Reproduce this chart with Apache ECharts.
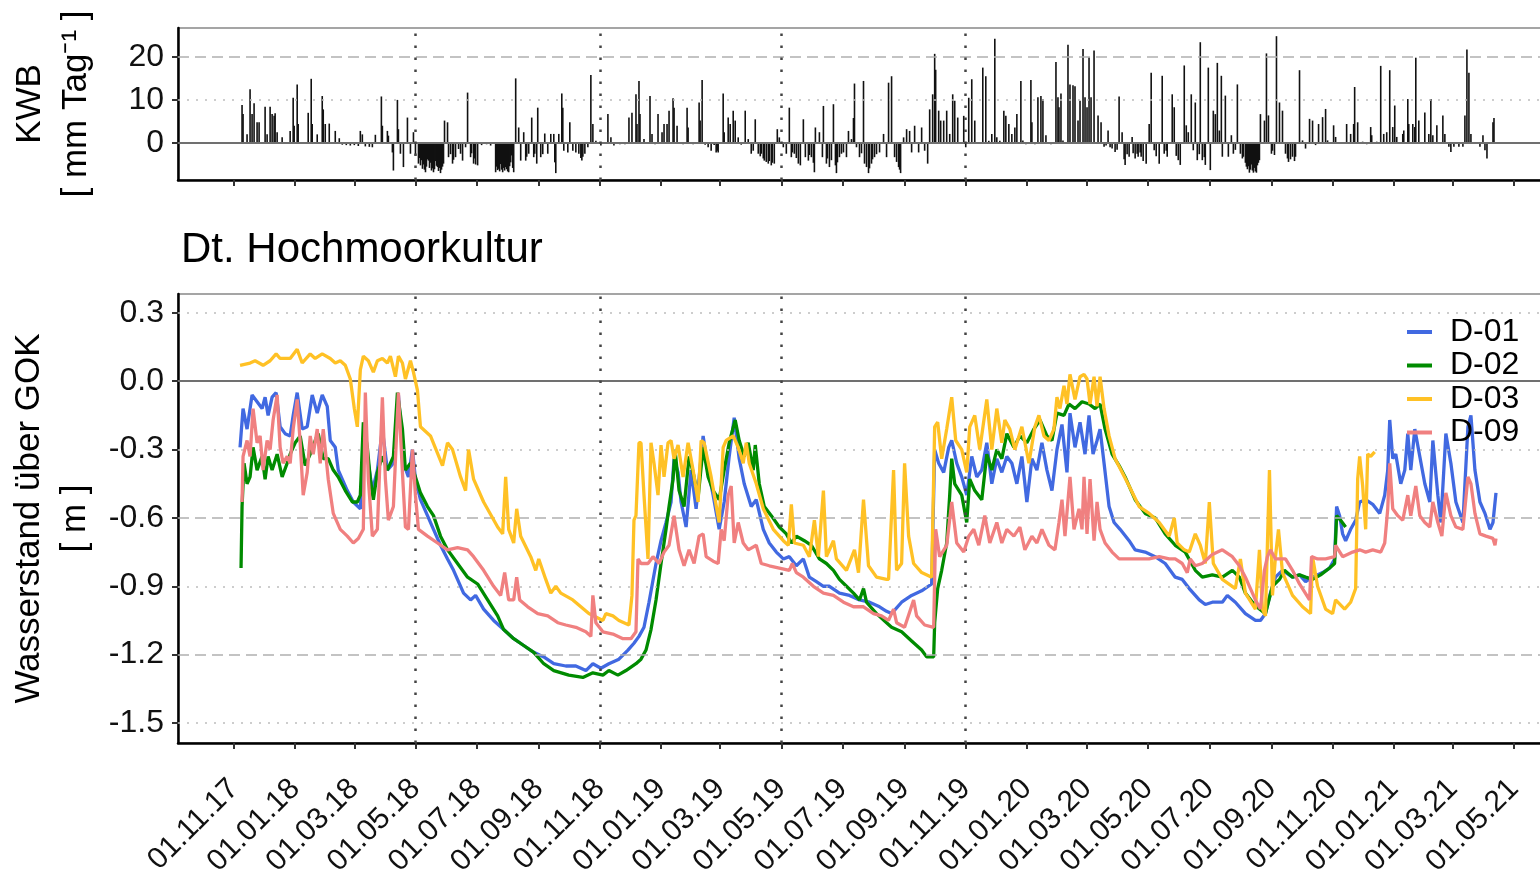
<!DOCTYPE html>
<html>
<head>
<meta charset="utf-8">
<script src="https://cdn.jsdelivr.net/npm/echarts@6/dist/echarts.min.js"></script>
<style>html,body{margin:0;padding:0;background:#fff}#c{width:1540px;height:872px}</style>
</head>
<body>
<div id="c"></div>
<script>
// x positions are days since 01.11.2017
const tickLabels = ["01.11.17","01.01.18","01.03.18","01.05.18","01.07.18","01.09.18","01.11.18","01.01.19","01.03.19","01.05.19","01.07.19","01.09.19","01.11.19","01.01.20","01.03.20","01.05.20","01.07.20","01.09.20","01.11.20","01.01.21","01.03.21","01.05.21"];
const vLineLabels = ["01.05.18","01.11.18","01.05.19","01.11.19"];
const yTicksLevel = [-1.5,-1.2,-0.9,-0.6,-0.3,0,0.3];
const yTicksKWB = [0,10,20];
const seriesNames = ["D-01","D-02","D-03","D-09"];
const seriesColors = ["#4169E1","#008B00","#FFC125","#F08080"];

// KWB [mm/Tag]: [day, value]
const KWB = [[8,8.8],[9,6.7],[13,2],[16,12.5],[18,6.7],[20,9.2],[23,4.8],[25,4.8],[31,8.4],[33,2],[36,8.4],[38,6.7],[40,6.3],[41,6.9],[43,2.5],[48,1.3],[56,2.8],[59,10.5],[60,4],[63,13.6],[64,4.4],[74,7],[77,14.9],[78,4.4],[83,2],[88,10.9],[89,7.8],[91,4.4],[95,4.5],[101,2.8],[105,1.1],[108,-0.4],[112,-0.5],[116,-0.6],[120,-0.5],[124,-0.7],[126,2.8],[128,2],[131,-0.8],[135,-0.9],[138,-1],[141,1.9],[147,10.8],[148,4],[153,2.8],[154,1.7],[158,-2.2],[159,-6.4],[163,10],[164,3.2],[166,-2.5],[169,-5.6],[173,5.9],[176,-2.5],[179,2.5],[181,-2.9],[184,-4.8],[185,-3.5],[186,-5.2],[187,-4],[188,-6],[189,-5],[190,-6.2],[191,-6.8],[192,-5.5],[193,-3.8],[194,-4.1],[195,-5.8],[196,-4.6],[197,-6.4],[198,-5.9],[199,-6.8],[200,-6.1],[201,-4.2],[202,-5.3],[203,-5.6],[204,-6.5],[205,-5.8],[206,-7],[207,-6.2],[208,-5.5],[209,-4.8],[210,5.2],[213,4.8],[214,-3.3],[216,-2.6],[218,-4.8],[219,-3.9],[221,-3.3],[224,-1.4],[226,-2.5],[228,-4.1],[231,-1],[233,11.7],[236,-3.3],[237,-2.4],[239,-4.8],[240,-3.6],[241,-5],[243,-5.2],[247,-0.5],[252,-0.3],[256,-0.6],[261,-6.8],[262,-5.5],[263,-6.3],[264,-6],[265,-6.6],[266,-4.9],[267,-6.2],[268,-6.8],[269,-5.8],[270,-6.4],[271,-5.6],[272,-6.1],[273,-6.6],[274,-6.8],[275,-5.4],[276,-4.5],[277,-2.9],[278,-5.8],[279,-6.8],[281,15],[284,3.6],[286,-4.1],[289,2.5],[291,-4.1],[292,-3.2],[294,-2.5],[297,5.9],[299,-3.3],[300,-2.5],[302,-4.8],[303,8.2],[306,-3.3],[308,-2.6],[310,2.2],[313,-2.5],[316,2.1],[319,2.1],[320,-4.5],[321,-7],[324,2.1],[327,11.5],[328,8.2],[329,-1.8],[333,-2.2],[335,4.8],[338,-1.8],[341,-2.2],[344,-2.5],[346,-3.5],[347,-4.1],[348,-3.2],[350,-2.5],[353,-1],[356,15.8],[358,4.4],[361,0.5],[366,-0.6],[373,6.7],[376,1.3],[379,-0.6],[385,-0.3],[390,-0.3],[394,5.9],[397,7],[401,11.3],[402,4.4],[404,14.4],[405,6.7],[409,0.9],[415,10.9],[417,2.1],[420,-0.3],[423,6.7],[427,2.5],[429,4.4],[432,4.4],[434,7.5],[438,10.4],[439,8.2],[442,4],[445,0.2],[448,-0.3],[452,8.2],[453,3.6],[458,-0.3],[464,9.4],[465,5.2],[467,14.6],[470,-0.4],[473,-1],[476,-1.8],[479,-0.5],[481,-2.2],[482,-1.8],[483,-2.2],[488,11.5],[489,2.5],[493,5.9],[495,4.4],[498,7.5],[500,5.2],[503,1.3],[506,-0.4],[510,7.5],[513,0.9],[516,-2.5],[518,-1.8],[520,5.5],[523,-2.5],[525,-3.1],[526,-2.5],[528,-3.6],[529,-4.1],[531,-4.4],[533,-4.8],[534,-4.2],[536,-5.2],[537,-4.6],[539,-4.8],[542,3.2],[544,1.3],[548,-1],[551,-2.5],[554,8.2],[556,-3.3],[557,-2.2],[559,-2.5],[561,-3.5],[563,-4.8],[565,-5.2],[568,5.5],[570,-3.3],[573,-4.1],[574,-2.8],[576,-3.3],[578,-4.6],[579,-6.8],[580,3.6],[584,2.5],[587,-3.3],[588,8.6],[591,-4.8],[592,-3.6],[594,-5.6],[596,-4],[598,9],[600,-5.2],[601,-7],[602,-4.5],[604,-3.3],[606,-2.5],[608,-2.2],[611,-3.3],[613,2.8],[616,0.9],[618,5.8],[619,13.8],[621,-1],[624,-3.3],[626,-2.4],[628,14.4],[629,-4.8],[631,-5.6],[633,-7],[634,-5.9],[636,-4.8],[637,-3.8],[639,-3.3],[641,-2.6],[644,-2.2],[648,2.1],[651,-3.3],[653,14],[656,15.5],[659,-3.3],[661,-4.4],[663,-5.6],[664,-6.2],[665,-7],[668,1.3],[671,3.2],[674,2.8],[676,-2.2],[679,4],[683,-2.2],[686,3.6],[689,-1.8],[692,-4.8],[694,7.8],[697,11.3],[699,20.7],[700,17],[703,7.5],[705,5.2],[708,5.2],[711,7.5],[714,2.1],[717,11.3],[719,9.8],[722,5.9],[724,-0.2],[728,6.3],[730,-1],[733,10.5],[736,14.8],[739,5.2],[743,-0.2],[747,17.5],[750,15.5],[753,0.5],[756,2.1],[759,24.2],[761,1.3],[764,0.5],[768,7.5],[770,6.3],[773,4.4],[776,2.1],[779,3.6],[781,6.7],[785,14.4],[787,0.6],[790,-0.3],[795,14.6],[796,4.8],[799,-0.3],[802,10.6],[805,10.9],[807,10.2],[810,1.8],[815,-0.3],[820,18.8],[822,10.6],[823,8.3],[825,11.5],[827,0.6],[832,22.8],[834,13.6],[837,13.4],[839,13.2],[842,5.2],[844,9.8],[847,21.8],[849,10.6],[851,8.3],[853,19.9],[855,10.6],[856,-0.2],[858,21.5],[862,6.4],[865,4.8],[868,-0.9],[870,-0.6],[872,2.9],[874,-1],[876,-1.3],[879,-2.1],[881,-1.6],[883,10.8],[886,2.5],[888,-3.8],[889,-5.1],[891,-2.6],[893,-3.2],[896,1.4],[897,-2.4],[899,-3.6],[901,-2.5],[902,-3.2],[904,-2.2],[905,-3.2],[907,-4.2],[910,-4.8],[913,4.4],[915,16.3],[918,-1.7],[920,-3.1],[923,-4.8],[926,15.6],[928,-2.5],[930,-1.8],[931,-3.2],[936,11.3],[938,8.3],[940,-3],[942,-4],[944,-5.1],[948,18],[950,4.1],[952,2.5],[955,11.3],[957,-1.7],[959,9.4],[961,-4],[963,-2.6],[964,23.4],[966,-4],[968,-3.3],[969,-5.1],[972,17.5],[974,-6.3],[977,7.5],[979,6.7],[981,18.6],[983,2.9],[985,15.6],[986,-3.2],[989,11],[992,-3.2],[995,1.8],[997,-2.5],[999,-1.6],[1001,13.6],[1004,-2.5],[1006,-3.6],[1007,-3.2],[1009,-4.6],[1010,-5.5],[1011,-6.1],[1012,-5.4],[1013,-6.9],[1014,-6.2],[1015,-5],[1016,-6.4],[1017,-6.9],[1018,-5.8],[1019,-6.6],[1020,-6.9],[1021,-5.2],[1022,-4.6],[1023,-4],[1024,6.7],[1028,5.2],[1030,20.8],[1032,6.4],[1035,-2.5],[1036,-1.8],[1038,-2.8],[1040,24.8],[1043,9.4],[1046,7.5],[1049,-2.5],[1051,-3.6],[1052,-4.4],[1054,-3.8],[1056,-3.2],[1058,-4.2],[1059,-3.2],[1061,-0.2],[1063,16.9],[1066,0.6],[1069,-1.3],[1073,5.6],[1076,5.2],[1079,-0.5],[1082,4.4],[1086,6],[1089,7.9],[1091,0.6],[1097,4.1],[1099,1.4],[1105,-0.2],[1110,4.4],[1114,2.1],[1117,4.4],[1118,13],[1121,4.8],[1126,0.3],[1130,-0.3],[1134,3.7],[1135,1.8],[1140,0.3],[1144,17.9],[1147,2.1],[1150,2.5],[1153,16.9],[1156,3.7],[1158,8.7],[1160,1.4],[1166,2.1],[1167,2.9],[1171,10.2],[1172,4.4],[1176,4.4],[1178,3.7],[1179,19.8],[1182,5.2],[1188,7.1],[1192,2.1],[1194,10.2],[1196,1.8],[1200,4.1],[1206,6.4],[1208,2.1],[1212,-0.9],[1214,-2.1],[1217,-0.9],[1222,-0.9],[1226,-0.9],[1228,6.4],[1230,21.7],[1232,16.3],[1234,2.1],[1237,0.2],[1243,-0.9],[1246,1.8],[1248,-1.7],[1250,-3.6],[1253,-0.2],[1256,4.8],[1257,5.8],[1258,0.2]];

// Wasserstand [m]: [day, value]
const D01 = [[6,-0.29],[9,-0.12],[13,-0.21],[18,-0.06],[23,-0.09],[28,-0.12],[31,-0.07],[34,-0.15],[38,-0.07],[42,-0.05],[46,-0.2],[51,-0.23],[56,-0.24],[59,-0.15],[63,-0.05],[68,-0.21],[73,-0.2],[78,-0.06],[83,-0.14],[88,-0.06],[93,-0.11],[96,-0.26],[101,-0.29],[104,-0.39],[113,-0.48],[119,-0.53],[126,-0.56],[129,-0.29],[133,-0.33],[138,-0.48],[143,-0.39],[148,-0.21],[153,-0.39],[159,-0.36],[164,-0.06],[169,-0.36],[174,-0.42],[178,-0.3],[181,-0.43],[186,-0.52],[193,-0.59],[199,-0.65],[206,-0.72],[213,-0.78],[219,-0.83],[229,-0.93],[236,-0.96],[241,-0.94],[249,-1.0],[259,-1.05],[269,-1.09],[279,-1.13],[289,-1.16],[299,-1.19],[309,-1.21],[319,-1.24],[331,-1.25],[341,-1.25],[351,-1.27],[358,-1.24],[366,-1.26],[374,-1.24],[384,-1.22],[393,-1.18],[399,-1.15],[404,-1.12],[409,-1.08],[414,-0.97],[421,-0.8],[426,-0.7],[431,-0.62],[436,-0.53],[439,-0.34],[443,-0.4],[446,-0.53],[451,-0.64],[456,-0.39],[461,-0.56],[468,-0.24],[473,-0.39],[478,-0.5],[484,-0.65],[489,-0.53],[494,-0.33],[499,-0.16],[504,-0.34],[509,-0.45],[516,-0.55],[521,-0.52],[528,-0.65],[534,-0.71],[541,-0.75],[548,-0.78],[554,-0.77],[561,-0.81],[568,-0.78],[574,-0.86],[581,-0.88],[588,-0.9],[594,-0.9],[604,-0.93],[614,-0.94],[624,-0.96],[634,-0.97],[644,-0.99],[651,-1.01],[656,-1.02],[666,-0.97],[676,-0.94],[686,-0.92],[696,-0.89],[699,-0.3],[703,-0.36],[708,-0.4],[713,-0.29],[716,-0.26],[721,-0.36],[726,-0.42],[731,-0.5],[736,-0.33],[741,-0.42],[746,-0.39],[751,-0.27],[756,-0.45],[761,-0.34],[766,-0.4],[771,-0.33],[776,-0.36],[781,-0.45],[786,-0.33],[791,-0.53],[796,-0.34],[801,-0.39],[806,-0.27],[811,-0.39],[816,-0.48],[821,-0.3],[826,-0.19],[831,-0.4],[834,-0.14],[839,-0.29],[844,-0.18],[849,-0.32],[853,-0.15],[857,-0.32],[861,-0.26],[864,-0.21],[868,-0.36],[873,-0.55],[878,-0.62],[884,-0.65],[893,-0.7],[899,-0.74],[909,-0.75],[919,-0.77],[929,-0.8],[939,-0.86],[946,-0.87],[953,-0.91],[963,-0.96],[969,-0.98],[976,-0.97],[986,-0.97],[991,-0.94],[999,-0.97],[1009,-1.02],[1019,-1.05],[1024,-1.05],[1029,-1.02],[1034,-0.93],[1039,-0.86],[1046,-0.83],[1056,-0.86],[1063,-0.85],[1069,-0.88],[1076,-0.86],[1086,-0.84],[1093,-0.82],[1098,-0.78],[1100,-0.55],[1103,-0.59],[1106,-0.67],[1109,-0.7],[1114,-0.65],[1119,-0.61],[1123,-0.53],[1129,-0.52],[1136,-0.54],[1143,-0.58],[1148,-0.5],[1151,-0.39],[1153,-0.17],[1156,-0.34],[1159,-0.32],[1164,-0.45],[1168,-0.39],[1171,-0.23],[1174,-0.39],[1178,-0.21],[1183,-0.33],[1188,-0.45],[1193,-0.53],[1196,-0.26],[1201,-0.5],[1204,-0.62],[1209,-0.23],[1214,-0.36],[1219,-0.53],[1226,-0.62],[1231,-0.2],[1234,-0.15],[1238,-0.39],[1243,-0.53],[1248,-0.58],[1253,-0.65],[1256,-0.62],[1259,-0.49]];
const D02 = [[7,-0.82],[8,-0.55],[10,-0.36],[13,-0.45],[16,-0.42],[19,-0.29],[23,-0.39],[28,-0.33],[31,-0.43],[34,-0.33],[38,-0.39],[43,-0.32],[48,-0.42],[53,-0.36],[56,-0.32],[61,-0.27],[66,-0.24],[71,-0.37],[76,-0.32],[81,-0.26],[84,-0.23],[89,-0.34],[94,-0.34],[99,-0.39],[104,-0.42],[111,-0.48],[118,-0.53],[123,-0.53],[126,-0.5],[129,-0.18],[133,-0.29],[136,-0.43],[139,-0.52],[143,-0.4],[148,-0.33],[153,-0.39],[159,-0.33],[163,-0.05],[168,-0.21],[171,-0.39],[176,-0.36],[181,-0.42],[186,-0.49],[193,-0.55],[199,-0.59],[206,-0.68],[213,-0.74],[223,-0.8],[233,-0.86],[243,-0.89],[253,-0.96],[263,-1.03],[269,-1.09],[279,-1.13],[289,-1.16],[299,-1.19],[309,-1.24],[319,-1.27],[334,-1.29],[348,-1.3],[358,-1.28],[368,-1.29],[374,-1.27],[383,-1.29],[391,-1.27],[401,-1.24],[406,-1.22],[411,-1.18],[416,-1.09],[421,-0.96],[426,-0.8],[431,-0.65],[434,-0.55],[438,-0.43],[440,-0.3],[444,-0.48],[449,-0.55],[454,-0.33],[458,-0.4],[463,-0.51],[468,-0.29],[473,-0.42],[478,-0.48],[484,-0.52],[489,-0.39],[494,-0.27],[500,-0.17],[504,-0.26],[509,-0.33],[513,-0.27],[518,-0.39],[520,-0.28],[524,-0.45],[529,-0.55],[536,-0.59],[544,-0.64],[551,-0.67],[556,-0.71],[561,-0.68],[569,-0.7],[576,-0.72],[584,-0.78],[591,-0.8],[598,-0.83],[604,-0.87],[611,-0.9],[618,-0.93],[624,-0.96],[628,-0.91],[631,-0.97],[641,-1.02],[651,-1.06],[656,-1.08],[666,-1.1],[676,-1.14],[686,-1.18],[691,-1.21],[698,-1.21],[699,-1.06],[702,-0.91],[706,-0.83],[711,-0.71],[714,-0.5],[716,-0.34],[719,-0.45],[726,-0.5],[731,-0.62],[734,-0.43],[739,-0.48],[746,-0.52],[751,-0.32],[756,-0.39],[761,-0.3],[766,-0.34],[771,-0.23],[778,-0.29],[784,-0.24],[791,-0.27],[798,-0.21],[804,-0.17],[811,-0.24],[816,-0.26],[821,-0.14],[828,-0.15],[833,-0.1],[839,-0.12],[846,-0.09],[853,-0.1],[859,-0.12],[864,-0.1],[869,-0.21],[876,-0.32],[883,-0.37],[889,-0.42],[899,-0.52],[909,-0.58],[919,-0.6],[929,-0.67],[939,-0.72],[949,-0.75],[959,-0.83],[966,-0.86],[976,-0.85],[986,-0.86],[996,-0.83],[1003,-0.86],[1009,-0.93],[1016,-0.97],[1023,-1.0],[1029,-1.02],[1036,-0.9],[1043,-0.87],[1048,-0.83],[1056,-0.86],[1063,-0.85],[1069,-0.86],[1076,-0.87],[1084,-0.85],[1093,-0.82],[1098,-0.8],[1100,-0.59],[1104,-0.61],[1109,-0.64]];
const D03 = [[6,0.07],[16,0.08],[21,0.09],[29,0.07],[36,0.09],[42,0.12],[46,0.1],[56,0.1],[63,0.14],[68,0.08],[76,0.12],[81,0.1],[88,0.12],[96,0.1],[101,0.08],[106,0.09],[111,0.07],[116,0.01],[120,-0.12],[123,-0.2],[126,0.05],[129,0.11],[134,0.09],[139,0.04],[143,0.09],[148,0.1],[153,0.08],[156,0.11],[161,0.02],[164,0.11],[168,0.08],[171,0.01],[176,0.09],[179,0.04],[183,-0.04],[186,-0.2],[196,-0.24],[208,-0.37],[213,-0.27],[218,-0.3],[226,-0.42],[231,-0.48],[234,-0.3],[239,-0.43],[249,-0.53],[263,-0.64],[268,-0.67],[271,-0.42],[274,-0.65],[279,-0.71],[282,-0.56],[286,-0.68],[296,-0.77],[301,-0.83],[304,-0.78],[311,-0.87],[316,-0.93],[321,-0.9],[326,-0.93],[338,-0.96],[354,-1.02],[368,-1.05],[371,-1.02],[378,-1.03],[384,-1.05],[394,-1.07],[397,-0.94],[399,-0.61],[401,-0.59],[404,-0.27],[406,-0.27],[409,-0.5],[413,-0.78],[416,-0.27],[419,-0.36],[423,-0.5],[426,-0.28],[429,-0.42],[433,-0.27],[436,-0.26],[439,-0.34],[443,-0.28],[448,-0.42],[453,-0.27],[458,-0.39],[463,-0.53],[466,-0.26],[469,-0.27],[476,-0.42],[484,-0.62],[488,-0.29],[491,-0.26],[498,-0.24],[503,-0.29],[508,-0.36],[511,-0.27],[514,-0.36],[521,-0.45],[528,-0.56],[538,-0.65],[548,-0.7],[553,-0.72],[556,-0.54],[559,-0.71],[568,-0.72],[574,-0.77],[579,-0.61],[583,-0.77],[588,-0.48],[591,-0.77],[598,-0.7],[601,-0.78],[611,-0.83],[619,-0.74],[623,-0.84],[628,-0.52],[633,-0.81],[641,-0.86],[651,-0.87],[653,-0.87],[658,-0.39],[661,-0.83],[666,-0.8],[669,-0.36],[673,-0.68],[678,-0.8],[686,-0.84],[696,-0.86],[699,-0.2],[702,-0.18],[706,-0.34],[711,-0.21],[716,-0.07],[720,-0.26],[726,-0.3],[731,-0.4],[734,-0.2],[739,-0.15],[744,-0.3],[751,-0.08],[756,-0.3],[761,-0.12],[766,-0.27],[769,-0.17],[774,-0.21],[779,-0.3],[786,-0.2],[793,-0.36],[799,-0.2],[803,-0.15],[808,-0.24],[813,-0.26],[818,-0.21],[821,-0.07],[824,-0.12],[828,-0.02],[831,-0.1],[834,0.03],[839,-0.08],[844,0.02],[848,0.03],[851,0.01],[854,-0.1],[858,0.02],[861,-0.11],[864,0.02],[868,-0.12],[873,-0.24],[879,-0.34],[886,-0.4],[893,-0.46],[903,-0.55],[913,-0.58],[923,-0.62],[933,-0.68],[938,-0.6],[941,-0.71],[948,-0.74],[953,-0.75],[959,-0.67],[964,-0.72],[969,-0.8],[973,-0.53],[977,-0.8],[986,-0.87],[999,-0.91],[1004,-0.78],[1009,-0.93],[1019,-1.0],[1023,-0.74],[1026,-1.0],[1029,-1.03],[1033,-0.39],[1036,-0.94],[1039,-0.77],[1042,-0.65],[1046,-0.84],[1056,-0.94],[1066,-0.99],[1074,-1.02],[1076,-0.77],[1081,-0.9],[1089,-1.0],[1096,-1.02],[1099,-0.96],[1108,-1.0],[1114,-0.97],[1119,-0.91],[1121,-0.43],[1123,-0.33],[1126,-0.46],[1129,-0.65],[1131,-0.32],[1134,-0.33],[1138,-0.31]];
const D09 = [[8,-0.53],[9,-0.33],[13,-0.26],[16,-0.33],[19,-0.12],[23,-0.27],[26,-0.24],[29,-0.39],[33,-0.26],[36,-0.3],[39,-0.17],[43,-0.06],[46,-0.29],[49,-0.36],[53,-0.33],[56,-0.36],[59,-0.21],[63,-0.08],[66,-0.27],[69,-0.5],[73,-0.4],[76,-0.24],[79,-0.32],[83,-0.21],[86,-0.36],[89,-0.21],[94,-0.43],[99,-0.58],[106,-0.65],[113,-0.68],[119,-0.71],[124,-0.69],[129,-0.65],[131,-0.05],[134,-0.43],[138,-0.68],[143,-0.65],[148,-0.07],[151,-0.43],[154,-0.61],[159,-0.55],[164,-0.05],[168,-0.4],[171,-0.64],[174,-0.65],[178,-0.3],[181,-0.5],[184,-0.65],[193,-0.68],[203,-0.71],[213,-0.74],[223,-0.73],[233,-0.74],[239,-0.77],[249,-0.83],[259,-0.9],[266,-0.94],[270,-0.84],[274,-0.96],[279,-0.96],[282,-0.86],[285,-0.96],[293,-0.99],[303,-1.02],[313,-1.03],[323,-1.06],[331,-1.07],[341,-1.08],[351,-1.1],[356,-1.12],[358,-0.94],[361,-1.06],[368,-1.1],[378,-1.11],[388,-1.13],[396,-1.13],[401,-1.1],[403,-0.78],[406,-0.8],[413,-0.8],[418,-0.77],[424,-0.8],[429,-0.75],[434,-0.72],[439,-0.59],[444,-0.74],[449,-0.81],[454,-0.74],[459,-0.8],[464,-0.68],[468,-0.67],[471,-0.77],[478,-0.79],[483,-0.8],[486,-0.65],[489,-0.7],[493,-0.5],[496,-0.46],[499,-0.71],[503,-0.62],[508,-0.71],[513,-0.74],[521,-0.72],[526,-0.8],[534,-0.81],[544,-0.82],[554,-0.83],[557,-0.8],[561,-0.84],[568,-0.86],[578,-0.9],[588,-0.93],[598,-0.94],[608,-0.97],[618,-0.99],[628,-0.99],[638,-1.02],[646,-1.03],[653,-1.05],[658,-1.0],[661,-1.06],[669,-1.08],[678,-0.96],[681,-1.03],[689,-1.07],[698,-1.08],[700,-0.65],[704,-0.77],[711,-0.72],[716,-0.53],[721,-0.71],[728,-0.75],[733,-0.68],[738,-0.65],[743,-0.72],[749,-0.59],[754,-0.71],[761,-0.62],[766,-0.71],[771,-0.65],[778,-0.68],[784,-0.64],[789,-0.74],[796,-0.68],[801,-0.71],[806,-0.65],[813,-0.72],[819,-0.74],[823,-0.62],[826,-0.52],[829,-0.68],[834,-0.42],[838,-0.65],[843,-0.56],[846,-0.65],[848,-0.42],[851,-0.67],[854,-0.43],[858,-0.7],[861,-0.53],[864,-0.65],[869,-0.71],[876,-0.75],[883,-0.78],[893,-0.78],[903,-0.78],[913,-0.78],[923,-0.77],[933,-0.78],[939,-0.78],[946,-0.8],[951,-0.84],[954,-0.78],[959,-0.81],[966,-0.8],[971,-0.78],[976,-0.76],[986,-0.74],[996,-0.77],[1003,-0.81],[1009,-0.86],[1019,-0.96],[1024,-1.0],[1028,-0.83],[1031,-0.77],[1034,-0.74],[1039,-0.78],[1049,-0.78],[1056,-0.83],[1063,-0.89],[1073,-0.96],[1075,-0.77],[1081,-0.78],[1089,-0.78],[1098,-0.77],[1099,-0.72],[1106,-0.77],[1116,-0.75],[1123,-0.74],[1129,-0.75],[1136,-0.74],[1144,-0.75],[1148,-0.71],[1151,-0.56],[1153,-0.36],[1156,-0.56],[1161,-0.59],[1166,-0.61],[1171,-0.5],[1174,-0.59],[1179,-0.46],[1183,-0.59],[1188,-0.62],[1193,-0.64],[1196,-0.53],[1201,-0.62],[1205,-0.68],[1209,-0.49],[1214,-0.59],[1219,-0.64],[1226,-0.65],[1231,-0.42],[1234,-0.45],[1238,-0.58],[1243,-0.67],[1249,-0.68],[1256,-0.69],[1258,-0.72],[1259,-0.69]];

const START = Date.UTC(2017, 10, 1);
const DAY = 86400000;
const t = d => START + d * DAY;
const parseLbl = s => { const p = s.split('.'); return Date.UTC(2000 + (+p[2]), (+p[1]) - 1, +p[0]); };
const tickTs = tickLabels.map(parseLbl);
const labelOf = {}; tickLabels.forEach((l, i) => labelOf[tickTs[i]] = l);
const vLineTs = vLineLabels.map(parseLbl);
const X_MIN = t(-55.9), X_MAX = t(1307.9);
const FONT = 'Liberation Sans, Arial, sans-serif';
const toXY = arr => arr.map(p => [t(p[0]), p[1]]);

const dotted = { color: '#bdbdbd', width: 1.5, type: [2, 7] };
const dashed = { color: '#b0b0b0', width: 1.5, type: [11, 6] };
const zeroL = { color: '#707070', width: 2, type: 'solid' };
const vDot = { color: '#444', width: 2.5, type: [2.5, 9.5] };
const styleFor = v => v === 0 ? zeroL : (Math.abs(Math.round(v * 10)) % 6 === 0 ? dashed : dotted);

const xAxisBase = (gi, showLabels) => ({
  type: 'value', gridIndex: gi, min: X_MIN, max: X_MAX,
  axisLine: { show: true, onZero: false, lineStyle: { color: '#000', width: 2.5 } },
  axisTick: { show: true, customValues: tickTs, length: 6, lineStyle: { color: '#333', width: 2 } },
  axisLabel: showLabels ? { show: true, customValues: tickTs, rotate: 45, margin: 41, fontSize: 30, fontFamily: FONT, color: '#111', formatter: v => labelOf[v] || '' } : { show: false },
  splitLine: { show: false }
});

const gridCommon = { left: 178, right: -5, show: true, borderColor: '#888', borderWidth: 1.5, backgroundColor: 'transparent', containLabel: false, outerBoundsMode: 'none' };

const option = {
  animation: false,
  backgroundColor: '#fff',
  textStyle: { fontFamily: FONT },
  title: { text: 'Dt. Hochmoorkultur', left: 176, top: 224, textStyle: { fontSize: 42, fontWeight: 'normal', color: '#000', fontFamily: FONT } },
  legend: {
    data: seriesNames, orient: 'vertical', left: 1402, top: 311, icon: 'rect', itemWidth: 25, itemHeight: 4, itemGap: 1.5,
    textStyle: { fontSize: 32, color: '#000', fontFamily: FONT, lineHeight: 32, padding: [0, 0, 0, 13] }
  },
  grid: [
    Object.assign({ top: 28, height: 152 }, gridCommon),
    Object.assign({ top: 294, height: 449 }, gridCommon)
  ],
  xAxis: [xAxisBase(0, false), xAxisBase(1, true)],
  yAxis: [
    { type: 'value', gridIndex: 0, min: -8.6, max: 26.7,
      name: 'KWB\n[ mm Tag⁻¹ ]', nameLocation: 'middle', nameRotate: 90, nameGap: 79,
      nameTextStyle: { fontSize: 35, color: '#000', fontFamily: FONT, lineHeight: 46 },
      axisLine: { show: true, lineStyle: { color: '#000', width: 2.5 } },
      axisTick: { show: true, customValues: yTicksKWB, length: 6, lineStyle: { color: '#333', width: 2 } },
      axisLabel: { customValues: yTicksKWB, fontSize: 32, color: '#111', fontFamily: FONT, margin: 14, formatter: v => String(v) },
      splitLine: { show: false } },
    { type: 'value', gridIndex: 1, min: -1.588, max: 0.383,
      name: 'Wasserstand über GOK\n[ m ]', nameLocation: 'middle', nameRotate: 90, nameGap: 79,
      nameTextStyle: { fontSize: 35, color: '#000', fontFamily: FONT, lineHeight: 46 },
      axisLine: { show: true, lineStyle: { color: '#000', width: 2.5 } },
      axisTick: { show: true, customValues: yTicksLevel, length: 6, lineStyle: { color: '#333', width: 2 } },
      axisLabel: { customValues: yTicksLevel, fontSize: 32, color: '#111', fontFamily: FONT, margin: 14, formatter: v => v.toFixed(1) },
      splitLine: { show: false } }
  ],
  series: [
    { type: 'line', name: '_grid0', xAxisIndex: 0, yAxisIndex: 0, data: [], silent: true, z: 1,
      markLine: { silent: true, symbol: ['none', 'none'], label: { show: false }, animation: false,
        data: yTicksKWB.map(v => ({ yAxis: v, lineStyle: v === 0 ? zeroL : (v === 20 ? dashed : dotted) }))
          .concat(vLineTs.map(x => ({ xAxis: x, lineStyle: vDot }))) } },
    { type: 'line', name: '_grid1', xAxisIndex: 1, yAxisIndex: 1, data: [], silent: true, z: 1,
      markLine: { silent: true, symbol: ['none', 'none'], label: { show: false }, animation: false,
        data: yTicksLevel.map(v => ({ yAxis: v, lineStyle: styleFor(v) }))
          .concat(vLineTs.map(x => ({ xAxis: x, lineStyle: vDot }))) } },
    { type: 'bar', name: 'KWB', xAxisIndex: 0, yAxisIndex: 0, data: toXY(KWB), barWidth: 1.6, z: 2,
      itemStyle: { color: '#111' } }
  ].concat([D01, D02, D03, D09].map((arr, i) => ({
    type: 'line', name: seriesNames[i], xAxisIndex: 1, yAxisIndex: 1, data: toXY(arr), z: 3 + i,
    showSymbol: false, symbol: 'none', lineStyle: { color: seriesColors[i], width: 3.3 }, itemStyle: { color: seriesColors[i] }
  })))
};

const chart = echarts.init(document.getElementById('c'), null, { renderer: 'canvas' });
chart.setOption(option);
</script>
</body>
</html>
